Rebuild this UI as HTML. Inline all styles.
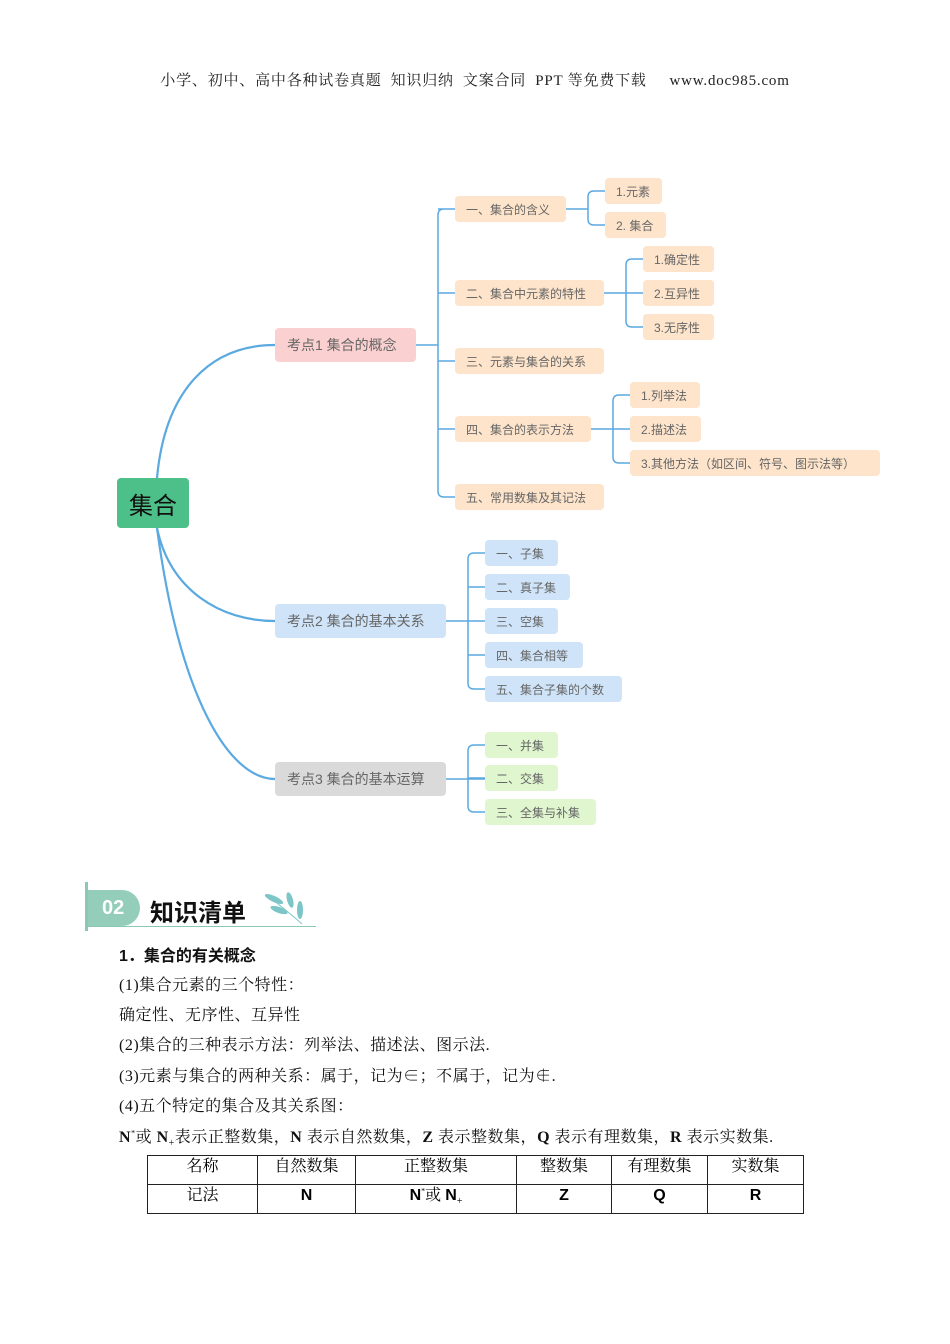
<!DOCTYPE html>
<html><head><meta charset="utf-8"><style>
body{margin:0;background:#fff;}
#p{position:relative;width:950px;height:1344px;overflow:hidden;font-family:"Liberation Serif","Noto Serif CJK SC",serif;}
.b{position:absolute;border-radius:4px;font-family:"Liberation Sans","Noto Sans CJK SC",sans-serif;font-size:12px;color:#666;display:flex;align-items:center;padding-left:11px;box-sizing:border-box;white-space:nowrap;}
.o{background:#fde4cb;}.k{background:#fbd0d0;}.u{background:#cfe4f8;}.g{background:#dadada;}.n{background:#e0f6cf;}
.t{position:absolute;left:119px;font-size:16px;color:#111;white-space:nowrap;letter-spacing:0.5px;}
sup,sub{line-height:0;}
table{position:absolute;left:147px;top:1155px;border-collapse:collapse;font-size:16px;}
td{border:1px solid #222;height:28px;padding:0;text-align:center;vertical-align:middle;line-height:18px;}
td div{height:28px;line-height:22px;overflow:hidden;}
</style></head><body><div id="p">
<div style="position:absolute;top:69px;left:0;width:950px;text-align:center;font-size:15px;color:#222;letter-spacing:0.8px;">小学、初中、高中各种试卷真题&nbsp; 知识归纳&nbsp; 文案合同&nbsp; PPT 等免费下载&nbsp;&nbsp;&nbsp;&nbsp; www.doc985.com</div>
<svg width="950" height="900" style="position:absolute;left:0;top:0" fill="none" stroke="#5aa9e0" stroke-width="1.5">
<path d="M157 478 C165 390 210 345 275 345" stroke-width="2.2"/>
<path d="M157 528 C170 590 220 621 275 621" stroke-width="2.2"/>
<path d="M157 528 C180 700 230 779 275 779" stroke-width="2.2"/>
<path d="M416 345 H438 M444 209 Q438 209 438 215 V491 Q438 497 444 497 H455 M438 209 H455 M438 293 H455 M438 361 H455 M438 429 H455"/>
<path d="M566 209 H588 M605 191 H594 Q588 191 588 197 V219 Q588 225 594 225 H605"/>
<path d="M604 293 H643 M643 259 H632 Q626 259 626 265 V321 Q626 327 632 327 H643 M626 293 H643"/>
<path d="M591 429 H630 M630 395 H619 Q613 395 613 401 V457 Q613 463 619 463 H630 M613 429 H630"/>
<path d="M446 621 H485 M485 553 H474 Q468 553 468 559 V683 Q468 689 474 689 H485 M468 587 H485 M468 621 H485 M468 655 H485"/>
<path d="M446 779 H485 M485 745 H474 Q468 745 468 751 V806 Q468 812 474 812 H485 M468 778 H485"/>
</svg>
<div class="b" style="left:117px;top:478px;width:72px;height:50px;background:#4dbf89;color:#111;font-size:24px;padding-left:12px;">集合</div>
<div class="b k" style="left:275px;top:328px;width:141px;height:34px;font-size:14px;padding-left:12px;">考点1 集合的概念</div>
<div class="b u" style="left:275px;top:604px;width:171px;height:34px;font-size:14px;padding-left:12px;">考点2 集合的基本关系</div>
<div class="b g" style="left:275px;top:762px;width:171px;height:34px;font-size:14px;padding-left:12px;">考点3 集合的基本运算</div>
<div class="b o" style="left:455px;top:196px;width:111px;height:26px;">一、集合的含义</div>
<div class="b o" style="left:455px;top:280px;width:149px;height:26px;">二、集合中元素的特性</div>
<div class="b o" style="left:455px;top:348px;width:149px;height:26px;">三、元素与集合的关系</div>
<div class="b o" style="left:455px;top:416px;width:136px;height:26px;">四、集合的表示方法</div>
<div class="b o" style="left:455px;top:484px;width:149px;height:26px;">五、常用数集及其记法</div>
<div class="b o" style="left:605px;top:178px;width:57px;height:26px;">1.元素</div>
<div class="b o" style="left:605px;top:212px;width:61px;height:26px;">2. 集合</div>
<div class="b o" style="left:643px;top:246px;width:71px;height:26px;">1.确定性</div>
<div class="b o" style="left:643px;top:280px;width:71px;height:26px;">2.互异性</div>
<div class="b o" style="left:643px;top:314px;width:71px;height:26px;">3.无序性</div>
<div class="b o" style="left:630px;top:382px;width:70px;height:26px;">1.列举法</div>
<div class="b o" style="left:630px;top:416px;width:71px;height:26px;">2.描述法</div>
<div class="b o" style="left:630px;top:450px;width:250px;height:26px;">3.其他方法（如区间、符号、图示法等）</div>
<div class="b u" style="left:485px;top:540px;width:73px;height:26px;">一、子集</div>
<div class="b u" style="left:485px;top:574px;width:85px;height:26px;">二、真子集</div>
<div class="b u" style="left:485px;top:608px;width:73px;height:26px;">三、空集</div>
<div class="b u" style="left:485px;top:642px;width:98px;height:26px;">四、集合相等</div>
<div class="b u" style="left:485px;top:676px;width:137px;height:26px;">五、集合子集的个数</div>
<div class="b n" style="left:485px;top:732px;width:73px;height:26px;">一、并集</div>
<div class="b n" style="left:485px;top:765px;width:73px;height:26px;">二、交集</div>
<div class="b n" style="left:485px;top:799px;width:111px;height:26px;">三、全集与补集</div>
<div style="position:absolute;left:85px;top:882px;width:3px;height:49px;background:#8cc9b4;"></div>
<div style="position:absolute;left:88px;top:890px;width:52px;height:36px;background:#94cdb9;border-radius:0 18px 18px 0;color:#fff;font:bold 20px 'Liberation Sans',sans-serif;line-height:36px;text-indent:14px;">02</div>
<div style="position:absolute;left:150px;top:893px;font:bold 24px 'Liberation Sans','Noto Sans CJK SC',sans-serif;color:#111;">知识清单</div>
<div style="position:absolute;left:88px;top:926px;width:228px;height:1px;background:#8cc9b4;"></div>
<svg width="50" height="40" style="position:absolute;left:262px;top:890px"><g fill="#7cc6c8"><ellipse cx="12" cy="9" rx="10" ry="3" transform="rotate(25 12 9)"/><ellipse cx="17" cy="20" rx="9" ry="3" transform="rotate(20 17 20)"/><ellipse cx="28" cy="10" rx="3" ry="8" transform="rotate(-15 28 10)"/><ellipse cx="38" cy="20" rx="3" ry="9"/></g><path d="M5 5 Q30 25 40 34" stroke="#7cc6c8" fill="none"/></svg>
<div class="t" style="top:942px;font-weight:bold;font-family:'Liberation Sans','Noto Sans CJK SC',sans-serif;letter-spacing:0;">1．集合的有关概念</div>
<div class="t" style="top:972px;">(1)集合元素的三个特性：</div>
<div class="t" style="top:1002px;">确定性、无序性、互异性</div>
<div class="t" style="top:1032px;">(2)集合的三种表示方法：列举法、描述法、图示法.</div>
<div class="t" style="top:1063px;">(3)元素与集合的两种关系：属于，记为∈；不属于，记为∉.</div>
<div class="t" style="top:1093px;">(4)五个特定的集合及其关系图：</div>
<div class="t" style="top:1124px;"><b>N</b><sup style="font-size:8px">*</sup>或 <b>N</b><sub style="font-size:10px">+</sub>表示正整数集，<b>N</b> 表示自然数集，<b>Z</b> 表示整数集，<b>Q</b> 表示有理数集，<b>R</b> 表示实数集.</div>
<table><tr><td style="width:109px"><div>名称</div></td><td style="width:97px"><div>自然数集</div></td><td style="width:160px"><div>正整数集</div></td><td style="width:94px"><div>整数集</div></td><td style="width:95px"><div>有理数集</div></td><td style="width:95px"><div>实数集</div></td></tr>
<tr><td><div>记法</div></td><td><div><b style="font-family:'Liberation Sans',sans-serif">N</b></div></td><td><div><b style="font-family:'Liberation Sans',sans-serif">N</b><sup style="font-size:8px">*</sup>或 <b style="font-family:'Liberation Sans',sans-serif">N</b><sub style="font-size:10px">+</sub></div></td><td><div><b style="font-family:'Liberation Sans',sans-serif">Z</b></div></td><td><div><b style="font-family:'Liberation Sans',sans-serif">Q</b></div></td><td><div><b style="font-family:'Liberation Sans',sans-serif">R</b></div></td></tr></table>
</div></body></html>
